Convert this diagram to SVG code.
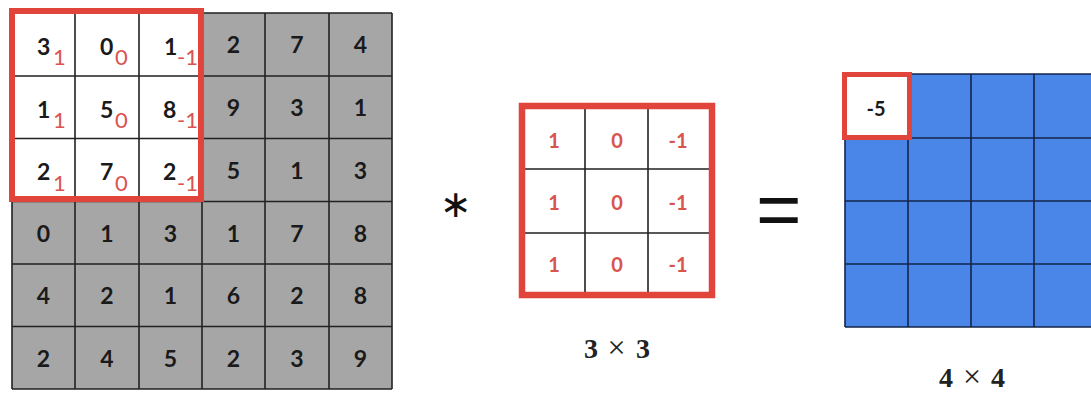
<svg xmlns="http://www.w3.org/2000/svg" width="1091" height="398" viewBox="0 0 1091 398">
<style>
.num{font-family:Lato,"Open Sans",sans-serif;font-weight:bold;font-size:23px;fill:#1a1a1a;text-anchor:middle}
.main{font-family:Lato,"Open Sans",sans-serif;font-weight:bold;font-size:23px;fill:#1a1a1a}
.sub{font-family:Lato,"Open Sans",sans-serif;font-size:22px;fill:#d9534f}
.kn{font-family:Lato,"Open Sans",sans-serif;font-weight:bold;font-size:20px;fill:#d9534f;text-anchor:middle}
.grid{stroke:#222;stroke-width:1.6;fill:none}
.ogrid{stroke:#15254a;stroke-width:1.6;fill:none}
.red{stroke:#e0443a;fill:none}
.lab{font-family:"Liberation Serif",serif;font-weight:bold;font-size:28px;fill:#222;text-anchor:middle}
.x{font-size:32px;font-weight:normal}
</style>
<rect width="1091" height="398" fill="#fff"/>
<g id="input">
<rect x="12" y="13" width="380" height="376" fill="#a6a6a6"/>
<rect x="12" y="13" width="190" height="189" fill="#fff"/>
<path class="grid" d="M12 13V389M75 13V389M139 13V389M202 13V389M265 13V389M329 13V389M392 13V389M12 13H392M12 76H392M12 138.5H392M12 201.5H392M12 264H392M12 326.5H392M12 389H392"/>
<g class="num">
<text x="233.5" y="53">2</text><text x="297" y="53">7</text><text x="360.5" y="53">4</text>
<text x="233.5" y="116">9</text><text x="297" y="116">3</text><text x="360.5" y="116">1</text>
<text x="233.5" y="179">5</text><text x="297" y="179">1</text><text x="360.5" y="179">3</text>
<text x="43.5" y="242">0</text><text x="107" y="242">1</text><text x="170.5" y="242">3</text><text x="233.5" y="242">1</text><text x="297" y="242">7</text><text x="360.5" y="242">8</text>
<text x="43.5" y="304">4</text><text x="107" y="304">2</text><text x="170.5" y="304">1</text><text x="233.5" y="304">6</text><text x="297" y="304">2</text><text x="360.5" y="304">8</text>
<text x="43.5" y="367">2</text><text x="107" y="367">4</text><text x="170.5" y="367">5</text><text x="233.5" y="367">2</text><text x="297" y="367">3</text><text x="360.5" y="367">9</text>
</g>
<g>
<text class="main" x="37" y="55">3</text><text class="sub" x="53" y="65">1</text>
<text class="main" x="100" y="55">0</text><text class="sub" x="115" y="65">0</text>
<text class="main" x="164" y="55">1</text><text class="sub" x="177" y="65">-1</text>
<text class="main" x="37" y="118">1</text><text class="sub" x="53" y="128">1</text>
<text class="main" x="100" y="118">5</text><text class="sub" x="115" y="128">0</text>
<text class="main" x="163" y="118">8</text><text class="sub" x="177" y="128">-1</text>
<text class="main" x="37" y="180">2</text><text class="sub" x="53" y="191">1</text>
<text class="main" x="100" y="180">7</text><text class="sub" x="115" y="191">0</text>
<text class="main" x="163" y="180">2</text><text class="sub" x="177" y="191">-1</text>
</g>
<rect class="red" x="12" y="11" width="189" height="188" stroke-width="6"/>
</g>
<g id="convolve-operator">
<text x="456" y="217" font-family="DejaVu Sans,sans-serif" font-size="38" fill="#111" text-anchor="middle">∗</text>
</g>
<g id="kernel">
<rect x="522" y="106" width="190" height="189" fill="#fff"/>
<path class="grid" d="M585 106V295M648 106V295M522 169H712M522 233H712"/>
<rect class="red" x="522" y="106" width="190" height="189" stroke-width="6.5"/>
<g class="kn">
<text x="554" y="148">1</text><text x="617" y="148">0</text><text x="678" y="148">-1</text>
<text x="554" y="210">1</text><text x="617" y="210">0</text><text x="678" y="210">-1</text>
<text x="554" y="272">1</text><text x="617" y="272">0</text><text x="678" y="272">-1</text>
</g>
<text class="lab" y="358"><tspan x="591">3</tspan><tspan class="x" x="616.5">×</tspan><tspan x="643">3</tspan></text>
</g>
<g id="equals-operator">
<text x="756" y="236" font-family="Liberation Sans,sans-serif" font-size="78" fill="#111">=</text>
</g>
<g id="output">
<rect x="845" y="74" width="260" height="253" fill="#4a86e8"/>
<path class="ogrid" d="M845 74V327M908 74V327M971 74V327M1034 74V327M1097 74V327M845 74H1097M845 138H1097M845 201H1097M845 264H1097M845 327H1097"/>
<rect x="845" y="75" width="64" height="62" fill="#fff"/>
<rect class="red" x="844.5" y="74.5" width="65" height="63" stroke-width="5"/>
<text x="876" y="116" font-family="Lato,sans-serif" font-weight="bold" font-size="20" fill="#1a1a1a" text-anchor="middle">-5</text>
<text class="lab" y="387"><tspan x="946">4</tspan><tspan class="x" x="972">×</tspan><tspan x="998">4</tspan></text>
</g>
</svg>
